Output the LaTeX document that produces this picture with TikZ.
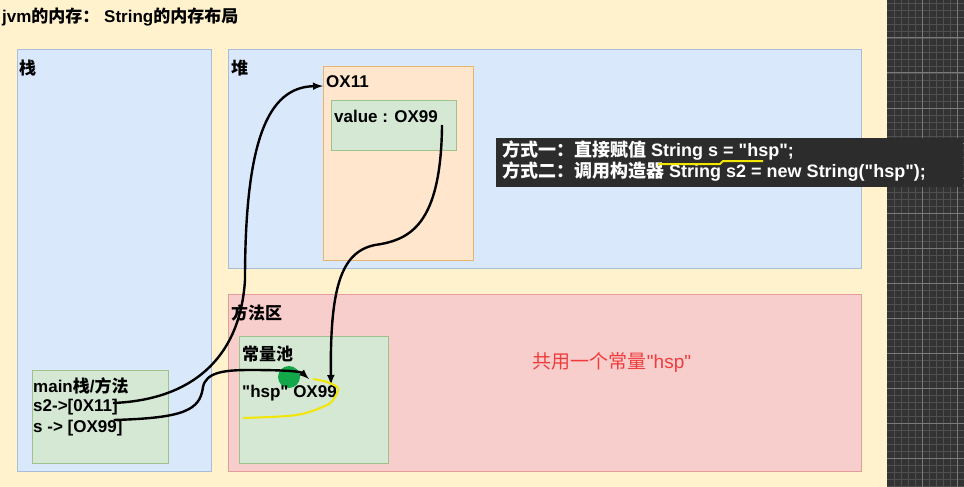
\documentclass[tikz,border=0pt]{standalone}
\usepackage{fontspec}
\setmainfont{Liberation Sans}[Ligatures=TeXOff]
\newfontfamily\cjk{Noto Sans CJK SC}
\usetikzlibrary{calc}

\definecolor{cream}{HTML}{FFF2CC}
\definecolor{heapblue}{HTML}{DAE8FC}
\definecolor{blueline}{HTML}{A9BDD9}
\definecolor{orangefill}{HTML}{FFE6CC}
\definecolor{orangeline}{HTML}{E6B56C}
\definecolor{poolgreen}{HTML}{D5E8D4}
\definecolor{greenline}{HTML}{9FC28C}
\definecolor{areapink}{HTML}{F8CECC}
\definecolor{pinkline}{HTML}{E49C9A}
\definecolor{slate}{HTML}{2C2C2C}
\definecolor{gridbg}{HTML}{333333}
\definecolor{gridminor}{HTML}{505050}
\definecolor{gridmajor}{HTML}{7A7A7A}
\definecolor{dotgreen}{HTML}{12A84A}
\definecolor{hlyellow}{HTML}{F2E600}
\definecolor{notered}{HTML}{F03C3C}

\newcommand{\zh}[1]{{\cjk #1}}

\tikzset{
  panel/.style={draw=#1, line width=1pt, anchor=north west, inner sep=0pt},
  txt/.style={font=\fontsize{17}{20}\selectfont\bfseries, anchor=west, inner sep=0pt},
  tiptxt/.style={font=\fontsize{18}{21}\selectfont\bfseries, text=white, anchor=west, inner sep=0pt},
  link/.style={-latex, line width=2.4pt, black}
}

\begin{document}
\begin{tikzpicture}[x=1pt, y=-1pt]
    \useasboundingbox (0,0) rectangle (964,487);
    % canvas and grid
    \fill[cream] (0,0) rectangle (887,487);
    \fill[gridbg] (887,0) rectangle (964,487);
    \foreach \gx in {894,901,...,963}
        \draw[gridminor, line width=0.6pt] (\gx,0) -- (\gx,487);
    \foreach \gy in {3,10,...,487}
        \draw[gridminor, line width=0.6pt] (887,\gy) -- (964,\gy);
    \foreach \gx in {922,957}
        \draw[gridmajor, line width=1pt] (\gx,0) -- (\gx,487);
    \foreach \gy in {38,73,...,487}
        \draw[gridmajor, line width=1pt] (887,\gy) -- (964,\gy);

    \node[txt] (title) at (2,17) {jvm\zh{的内存：} String\zh{的内存布局}};

    % areas
    \node[panel=blueline, fill=heapblue, minimum width=194, minimum height=422] (stack) at (17,49) {};
    \node[txt] (stacklbl) at (19,68) {\zh{栈}};
    \node[panel=blueline, fill=heapblue, minimum width=633, minimum height=219] (heap) at (228,49) {};
    \node[txt] (heaplbl) at (231,68) {\zh{堆}};
    \node[panel=pinkline, fill=areapink, minimum width=633, minimum height=177] (area) at (228,294) {};
    \node[txt] (arealbl) at (231,313) {\zh{方法区}};

    % objects
    \node[panel=orangeline, fill=orangefill, minimum width=150, minimum height=194] (obj) at (323,66) {};
    \node[txt] (ox11) at (326,82) {OX11};
    \node[panel=greenline, fill=poolgreen, minimum width=125, minimum height=50] (valbox) at (331,100) {};
    \node[txt] (valtxt) at (334,116) {value : OX99};

    \node[panel=greenline, fill=poolgreen, minimum width=149, minimum height=127] (pool) at (239,336) {};
    \node[txt] (poollbl) at (242,354) {\zh{常量池}};
    \fill[dotgreen] (289,377) circle [radius=11pt];
    \node[txt] (pooltxt) at (242,393) {"hsp" OX99};

    \node[panel=greenline, fill=poolgreen, minimum width=136, minimum height=93] (mainbox) at (32,370) {};
    \node[txt] (mainlbl) at (33,386) {main\zh{栈}/\zh{方法}};
    \node[txt] (s2ref) at (33,407) {s2->[0X11]};
    \node[txt] (sref) at (33,428) {s -> [OX99]};

    \node[font=\fontsize{19}{22}\selectfont, text=notered, inner sep=0pt] (note) at (612,362) {\zh{共用一个常量}"hsp"};

    % tooltip
    \node[anchor=north west, fill=slate, minimum width=467, minimum height=49, inner sep=0pt] (tip) at (496,138) {};
    \node[tiptxt] (tip1) at (502,151) {\zh{方式一：直接赋值} String s = "hsp";};
    \node[tiptxt] (tip2) at (502,172) {\zh{方式二：调用构造器} String s2 = new String("hsp");};
    \draw[hlyellow, line width=2pt] (658,164) -- (720,164) -- (723,161) -- (763,161);

    % references
    \draw[link] ([shift={(-5,-4)}]s2ref.east) .. controls (190,400) and (240,360) .. (245,280)
        .. controls (245,140) and (268,87) .. ([shift={(-3,4)}]ox11.west);
    \draw[link] ([shift={(-9,-8)}]sref.east) .. controls (185,418) and (200,410) .. (203,387)
        .. controls (206,372) and (225,370) .. (250,370)
        .. controls (280,370) and (300,371) .. ([shift={(-28,-14)}]pooltxt.east);
    \draw[link] ([shift={(4,9)}]valtxt.east) .. controls (441,225) and (410,240) .. (375,245)
        .. controls (340,252) and (330,290) .. ([shift={(-6,-8)}]pooltxt.east);

    % hand-drawn mark
    \draw[hlyellow, line width=2pt] plot[smooth] coordinates
        {(243,418) (297,415) (327,405) (335,397) (338,388) (327,382) (313,379)};
\end{tikzpicture}
\end{document}
